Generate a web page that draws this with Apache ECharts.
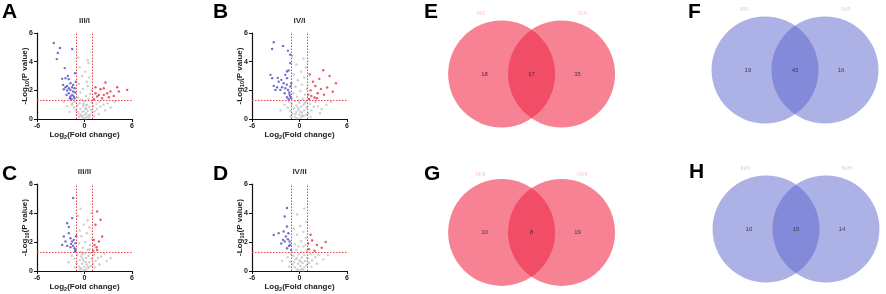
<!DOCTYPE html>
<html>
<head>
<meta charset="utf-8">
<script src="https://cdn.jsdelivr.net/npm/echarts@6/dist/echarts.min.js"></script>
<style>
html, body { margin: 0; padding: 0; background: #fff; }
#chart { width: 886px; height: 294px; }
</style>
</head>
<body>
<div id="chart"></div>
<script>
// volcano points: [log2 fold change, -log10 p value]
const aDown = [[-3.87,5.3],[-3.37,4.6],[-3.1,4.95],[-1.56,4.88],[-3.5,4.18],[-2.5,3.55],[-2.82,2.8],[-2.4,2.85],[-1.98,2.78],[-1.77,2.5],[-2.69,2.38],[-2.4,2.22],[-2.19,2.31],[-1.98,2.15],[-1.77,2.03],[-1.56,2.22],[-1.43,1.92],[-1.98,1.8],[-2.27,1.68],[-1.77,1.57],[-1.56,1.68],[-1.35,1.57],[-1.85,1.45],[-1.64,1.38],[-1.26,1.45],[-2.19,1.99],[-2.61,2.08],[-1.43,2.38],[-1.26,2.15],[-1.18,1.85],[-1.1,2.6],[-1.2,3.2],[-2.1,3.0]];
const aUp = [[1.39,2.22],[2.02,2.08],[2.44,2.15],[2.65,2.55],[2.86,1.8],[3.28,1.92],[4.13,2.22],[4.34,1.92],[5.39,2.03],[1.81,1.68],[2.23,1.45],[1.6,1.57],[1.18,1.38],[3.7,1.61],[3.07,1.52],[2.44,1.68],[1.39,1.8]];
const aNs = [[-0.2,0.1],[0.1,0.05],[0.3,0.15],[-0.4,0.2],[0.5,0.25],[0.0,0.3],[-0.6,0.35],[0.2,0.4],[0.7,0.3],[-0.3,0.5],[0.4,0.55],[1.0,0.45],[-0.8,0.5],[-1.1,0.6],[1.3,0.55],[0.8,0.65],[-0.5,0.7],[0.1,0.75],[1.6,0.7],[-1.3,0.8],[0.6,0.85],[-0.2,0.9],[1.1,0.9],[2.0,0.85],[-0.9,0.95],[0.3,1.0],[-1.6,1.0],[1.5,1.05],[2.4,1.0],[-0.6,1.1],[0.9,1.15],[-1.2,1.2],[0.0,1.2],[1.9,1.2],[2.9,1.1],[-0.4,1.35],[0.5,1.4],[-0.8,1.5],[0.2,1.6],[0.7,1.75],[-0.5,1.85],[0.9,2.0],[-0.2,2.1],[0.4,2.3],[-0.7,2.45],[0.3,2.6],[0.6,2.9],[-0.3,3.0],[0.1,3.3],[-0.6,3.6],[0.5,3.9],[-0.8,4.3],[0.4,4.1],[-1.5,1.1],[-2.2,0.9],[3.3,0.8],[2.6,0.6],[-1.9,0.5],[-0.1,0.55],[0.25,0.7],[-0.35,0.25],[0.6,0.1],[-0.7,0.15],[1.2,0.2],[-1.0,0.3],[1.8,0.35],[0.15,0.95],[-0.15,1.05],[3.8,1.2],[-2.6,1.2]];

const bDown = [[-3.25,5.35],[-3.46,4.88],[-2.08,5.1],[-1.46,4.77],[-3.67,3.08],[-3.46,2.85],[-1.79,3.08],[-3.25,2.31],[-2.63,2.6],[-2.29,2.73],[-2.0,2.5],[-1.58,2.85],[-1.38,3.39],[-1.17,3.9],[-1.79,2.15],[-2.2,2.22],[-1.46,2.03],[-1.3,1.85],[-1.17,1.57],[-1.58,1.52],[-1.88,1.8],[-2.42,2.03],[-2.83,2.22],[-3.04,2.03],[-1.17,2.27],[-1.38,1.38],[-1.04,2.5],[-1.58,3.32],[-1.17,4.49],[-2.75,2.87],[-1.25,1.7],[-1.05,1.45],[-1.6,2.4]];
const bUp = [[1.2,1.4],[1.5,1.6],[1.9,1.5],[2.3,1.8],[1.4,2.0],[2.7,2.1],[3.1,1.7],[2.0,2.3],[3.5,2.2],[4.2,1.9],[1.7,2.6],[2.5,2.8],[3.8,3.0],[4.6,2.5],[1.3,3.1],[3.0,3.4],[2.2,1.45],[1.1,1.7]];
const bNs = [[-0.3,0.05],[0.2,0.1],[0.5,0.2],[-0.6,0.15],[0.0,0.3],[0.8,0.3],[-0.9,0.35],[0.3,0.45],[-0.4,0.5],[1.1,0.4],[-1.2,0.55],[0.6,0.6],[-0.1,0.65],[1.5,0.6],[-0.7,0.75],[0.9,0.8],[0.2,0.85],[-1.5,0.8],[1.8,0.85],[-0.4,0.95],[0.5,1.0],[-1.0,1.05],[1.3,1.05],[2.3,0.9],[-1.9,1.0],[0.0,1.15],[0.8,1.2],[-0.6,1.25],[2.0,1.2],[-1.3,1.2],[0.4,1.4],[-0.3,1.55],[0.7,1.7],[-0.8,1.8],[0.1,1.95],[0.9,2.1],[-0.5,2.25],[0.3,2.4],[-0.2,2.7],[0.6,2.9],[-0.7,3.1],[0.2,3.3],[0.8,3.6],[-0.4,3.8],[0.5,4.2],[-0.9,4.4],[2.8,0.7],[3.4,1.0],[-2.4,0.6],[0.1,0.5],[-0.2,0.8],[0.35,0.25],[-0.5,0.35],[1.4,0.15],[-1.1,0.2],[2.6,0.4],[0.65,1.1],[-0.15,1.3],[4.0,1.2]];

const cDown = [[-1.43,5.03],[-1.56,3.65],[-2.19,3.3],[-1.98,2.61],[-2.61,2.38],[-1.77,2.26],[-1.35,2.15],[-1.56,2.03],[-1.14,1.92],[-2.4,2.03],[-2.82,1.8],[-2.19,1.73],[-1.77,1.64],[-1.26,1.57],[-1.43,1.73],[-1.14,1.45],[-1.68,1.87],[-1.98,3.03],[-1.2,1.35],[-1.05,2.4]];
const cUp = [[1.39,3.19],[2.02,3.53],[1.6,4.11],[1.18,2.15],[1.81,2.03],[1.52,1.64],[1.6,1.45],[1.26,1.8],[2.23,2.38],[1.1,1.4]];
const cNs = [[-0.1,0.05],[0.2,0.1],[-0.4,0.2],[0.5,0.2],[0.0,0.3],[0.8,0.35],[-0.7,0.3],[0.3,0.45],[-0.3,0.5],[1.1,0.5],[-1.0,0.55],[0.6,0.6],[-0.1,0.7],[1.4,0.7],[-0.6,0.75],[0.9,0.85],[0.2,0.9],[-1.3,0.85],[1.7,0.9],[-0.4,1.0],[0.5,1.05],[-0.9,1.1],[1.2,1.1],[2.1,1.0],[-1.6,1.05],[0.0,1.2],[0.8,1.25],[-0.5,1.3],[2.5,1.2],[0.4,1.45],[-0.2,1.6],[0.7,1.8],[-0.7,1.9],[0.1,2.0],[0.9,2.2],[-0.4,2.4],[0.3,2.6],[-0.6,2.8],[0.6,3.0],[-0.1,3.2],[0.4,3.5],[-0.8,3.8],[0.9,4.0],[-0.5,4.3],[2.8,0.7],[-2.0,0.6],[3.3,0.9],[0.15,0.6],[-0.25,0.85],[0.45,0.3],[-0.55,0.1],[1.3,0.25],[-1.2,0.25],[1.9,0.45],[0.65,1.5],[-0.3,1.15]];

const dDown = [[-1.58,4.34],[-1.87,3.76],[-1.58,3.07],[-3.25,2.49],[-2.63,2.61],[-2.0,2.72],[-1.71,2.38],[-1.46,2.19],[-1.87,2.03],[-1.33,1.73],[-1.58,1.57],[-1.17,1.8],[-2.08,2.15],[-1.25,2.03],[-1.05,1.45],[-2.3,1.9],[-1.4,2.6]];
const dUp = [[1.2,1.5],[1.6,2.1],[2.2,1.8],[2.8,1.6],[1.4,2.5],[3.3,2.0],[1.9,1.4],[1.1,1.9]];
const dNs = [[0.0,0.05],[-0.3,0.1],[0.3,0.15],[0.6,0.25],[-0.6,0.25],[0.1,0.35],[0.9,0.4],[-0.9,0.45],[-0.2,0.5],[0.4,0.55],[1.2,0.55],[-1.2,0.65],[0.7,0.7],[0.0,0.75],[1.6,0.75],[-0.5,0.8],[1.0,0.9],[0.3,0.95],[-1.5,0.95],[2.0,0.95],[-0.8,1.05],[0.6,1.1],[-0.1,1.15],[1.4,1.15],[2.4,1.1],[-1.1,1.2],[0.2,1.3],[0.9,1.4],[-0.4,1.45],[0.5,1.7],[-0.6,1.85],[0.2,2.05],[0.8,2.3],[-0.3,2.5],[0.5,2.7],[-0.7,2.9],[0.1,3.1],[0.9,3.4],[-0.3,3.9],[0.6,4.3],[3.0,0.8],[-2.2,0.7],[3.6,1.1],[0.15,0.65],[-0.35,0.9],[0.45,0.05],[-0.7,0.6],[1.5,0.3],[-1.3,0.3],[2.2,0.5],[0.75,1.8],[-0.15,1.7]];

const volcanoTitles = ["III/I", "IV/I", "III/II", "IV/II"];
const fcCut = 1;
const pCut = 1.3;

// venn: [left only, both, right only]
const vennSets = [["III/I", "IV/I"], ["III/I", "IV/I"], ["III/II", "IV/II"], ["III/II", "IV/II"]];
const vennCounts = [[18, 17, 35], [19, 43, 16], [10, 8, 19], [10, 15, 14]];

const panelLetters = ["A", "B", "C", "D", "E", "F", "G", "H"];

const FONT = "Liberation Sans, Arial, sans-serif";
const chart = echarts.init(document.getElementById("chart"));

const volcanoGrids = [
  { left: 37, top: 33, width: 95, height: 86 },
  { left: 252, top: 33, width: 95, height: 86 },
  { left: 37, top: 184, width: 95, height: 87 },
  { left: 252, top: 184, width: 95, height: 87 },
];
const vennGrids = [
  { left: 446, top: 9.8, width: 171.2, height: 128.4 },
  { left: 709.4, top: 5.8, width: 171.2, height: 128.4 },
  { left: 446, top: 170.8, width: 171.2, height: 128.4 },
  { left: 710.4, top: 164.8, width: 171.2, height: 128.4 },
];
const letterPos = [[2, 2], [213, 2], [2, 164], [213, 164], [424, 2], [688, 2], [424, 164], [689, 162]];
const vennColors = [
  { fill: "rgba(240,40,70,0.58)", text: "#f4b4be" },
  { fill: "rgba(90,100,205,0.5)", text: "#b9bde6" },
  { fill: "rgba(240,40,70,0.58)", text: "#f4b4be" },
  { fill: "rgba(90,100,205,0.5)", text: "#b9bde6" },
];

const down = [aDown, bDown, cDown, dDown];
const up = [aUp, bUp, cUp, dUp];
const ns = [aNs, bNs, cNs, dNs];

const axisText = { fontSize: 7, fontWeight: "bold", color: "#222", fontFamily: FONT };
const nameRich = {
  t: { fontSize: 8, fontWeight: "bold", color: "#222", fontFamily: FONT, lineHeight: 10 },
  s: { fontSize: 5.5, fontWeight: "bold", color: "#222", fontFamily: FONT, lineHeight: 5, verticalAlign: "bottom" },
};

let grid = [], xAxis = [], yAxis = [], series = [], title = [];

panelLetters.forEach((l, i) => {
  title.push({
    text: l, left: letterPos[i][0], top: letterPos[i][1], padding: 0,
    textStyle: { fontSize: 21, fontWeight: "bold", color: "#000", fontFamily: FONT },
  });
});

volcanoGrids.forEach((g, i) => {
  grid.push(g);
  title.push({
    text: volcanoTitles[i], left: g.left + g.width / 2, top: g.top - 16, padding: 0, textAlign: "center",
    textStyle: { fontSize: 8, fontWeight: "bold", color: "#333", fontFamily: FONT },
  });
  xAxis.push({
    gridIndex: i, type: "value", min: -6, max: 6, interval: 6,
    name: "{t|Log}{s|2}{t|(Fold change)}", nameLocation: "middle", nameGap: 11,
    nameMoveOverlap: false,
    nameTextStyle: { rich: nameRich },
    axisLine: { onZero: false, lineStyle: { color: "#111", width: 1.2 } },
    axisTick: { length: 3, lineStyle: { color: "#111", width: 1 } },
    axisLabel: Object.assign({ margin: 4 }, axisText),
    splitLine: { show: false },
  });
  yAxis.push({
    gridIndex: i, type: "value", min: 0, max: 6, interval: 2,
    name: "{t|-Log}{s|10}{t|(P value)}", nameLocation: "middle", nameGap: 7,
    nameMoveOverlap: false,
    nameTextStyle: { rich: nameRich },
    axisLine: { onZero: false, lineStyle: { color: "#111", width: 1.2 } },
    axisTick: { length: 3, lineStyle: { color: "#111", width: 1 } },
    axisLabel: Object.assign({ margin: 4 }, axisText),
    splitLine: { show: false },
  });
  series.push({
    type: "scatter", xAxisIndex: i, yAxisIndex: i, data: ns[i], symbolSize: 2.4,
    itemStyle: { color: "#c2c2c2" }, silent: true,
  });
  series.push({
    type: "scatter", xAxisIndex: i, yAxisIndex: i, data: down[i], symbolSize: 2.4,
    itemStyle: { color: "#4b4bc0" }, silent: true,
  });
  series.push({
    type: "scatter", xAxisIndex: i, yAxisIndex: i, data: up[i], symbolSize: 2.4,
    itemStyle: { color: "#e0303f" }, silent: true,
  });
  // significance thresholds
  series.push({
    type: "scatter", xAxisIndex: i, yAxisIndex: i, data: [], silent: true,
    itemStyle: { color: "#e6414f" },
    markLine: {
      silent: true, symbol: "none", label: { show: false },
      lineStyle: { color: "#e6414f", type: [1.5, 1.5], width: 1, opacity: 1 },
      emphasis: { disabled: true },
      data: [{ xAxis: -fcCut }, { xAxis: fcCut }, { yAxis: pCut }],
    },
  });
});

vennGrids.forEach((g, k) => {
  const i = k + 4;
  grid.push(g);
  xAxis.push({ gridIndex: i, type: "value", min: -1.6, max: 1.6, show: false });
  yAxis.push({ gridIndex: i, type: "value", min: -1.2, max: 1.2, show: false });
  const col = vennColors[k];
  series.push({
    type: "custom", xAxisIndex: i, yAxisIndex: i, silent: true,
    data: [[-0.56, 0], [0.56, 0]],
    renderItem: (params, api) => {
      const c = api.coord([api.value(0), api.value(1)]);
      const r = api.size([1, 0])[0];
      return { type: "circle", shape: { cx: c[0], cy: c[1], r: r }, style: { fill: col.fill } };
    },
  });
  series.push({
    type: "scatter", xAxisIndex: i, yAxisIndex: i, silent: true, symbolSize: 0,
    data: [[-0.88, 0], [0, 0], [0.86, 0]],
    label: {
      show: true, position: "inside", fontSize: 6, color: "#222", fontFamily: FONT,
      formatter: (p) => String(vennCounts[k][p.dataIndex]),
    },
  });
  series.push({
    type: "scatter", xAxisIndex: i, yAxisIndex: i, silent: true, symbolSize: 0,
    data: [[-0.95, 1.13], [0.95, 1.13]],
    label: {
      show: true, position: "inside", fontSize: 6, color: col.text, fontFamily: FONT,
      formatter: (p) => vennSets[k][p.dataIndex],
    },
  });
});

chart.setOption({
  animation: false,
  backgroundColor: "#fff",
  title: title,
  grid: grid,
  xAxis: xAxis,
  yAxis: yAxis,
  series: series,
});
</script>
</body>
</html>
